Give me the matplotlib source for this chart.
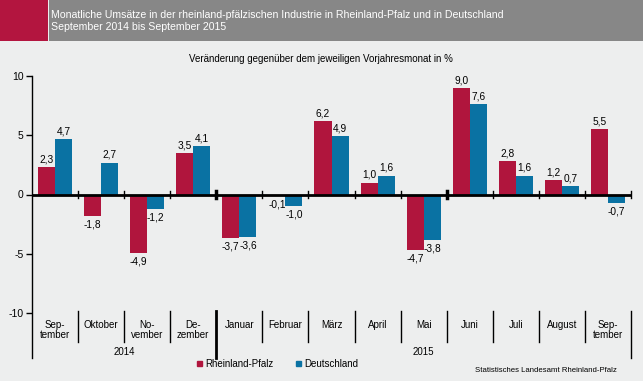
import matplotlib; matplotlib.use("Agg")
import matplotlib.pyplot as plt
from matplotlib.patches import Patch, Rectangle

# data
months = ["Sep-\ntember", "Oktober", "No-\nvember", "De-\nzember", "Januar", "Februar",
          "März", "April", "Mai", "Juni", "Juli", "August", "Sep-\ntember"]
years = [("2014", 0, 3), ("2015", 4, 12)]
rlp = [2.3, -1.8, -4.9, 3.5, -3.7, -0.1, 6.2, 1.0, -4.7, 9.0, 2.8, 1.2, 5.5]
de = [4.7, 2.7, -1.2, 4.1, -3.6, -1.0, 4.9, 1.6, -3.8, 7.6, 1.6, 0.7, -0.7]
series = [("Rheinland-Pfalz", rlp, "#b0153d"), ("Deutschland", de, "#0a72a3")]

BG = "#edeeee"
plt.rcParams["font.family"] = ["Liberation Sans", "DejaVu Sans"]
plt.rcParams["axes.unicode_minus"] = False

fig = plt.figure(figsize=(6.43, 3.81), dpi=100, facecolor=BG)
W, H = 643, 381

# header band
fig.add_artist(Rectangle((0, 1 - 41/H), 48/W, 41/H, transform=fig.transFigure, color="#b3153f", lw=0))
fig.add_artist(Rectangle((49/W, 1 - 41/H), 1, 41/H, transform=fig.transFigure, color="#878787", lw=0))
fig.text(51/W, 1 - 15/H, "Monatliche Umsätze in der rheinland-pfälzischen Industrie in Rheinland-Pfalz und in Deutschland",
         color="white", fontsize=7.6, va="center")
fig.text(51/W, 1 - 26.5/H, "September 2014 bis September 2015", color="white", fontsize=7.6, va="center")
fig.text(321/W, 1 - 59/H, "Veränderung gegenüber dem jeweiligen Vorjahresmonat in %", fontsize=7, ha="center", va="center")

ax = fig.add_axes([32/W, 1 - 313/H, 599/W, 237/H])
ax.set_facecolor("none")
n = len(months)
x = list(range(n))
bw = 0.37
for i, (name, vals, col) in enumerate(series):
    off = (i - 0.5) * bw
    bars = ax.bar([k + off for k in x], vals, bw, color=col, label=name, zorder=2)
    for b, v in zip(bars, vals):
        lab = f"{v:.1f}".replace(".", ",")
        if v >= 0:
            ax.annotate(lab, (b.get_x() + bw/2, v), xytext=(0, 2), textcoords="offset points",
                        ha="center", va="bottom", fontsize=7.3)
        else:
            ax.annotate(lab, (b.get_x() + bw/2, v), xytext=(0, -2.5), textcoords="offset points",
                        ha="center", va="top", fontsize=7.3)

ax.set_xlim(-0.5, n - 0.5)
ax.set_ylim(-10, 10)
ax.set_yticks([-10, -5, 0, 5, 10])
ax.tick_params(axis="y", length=4, width=1, labelsize=7.5, pad=2)
ax.set_xticks([])
for s in ax.spines.values():
    s.set_visible(False)

# zero line with boundary ticks
ax.axhline(0, color="black", lw=2, zorder=3)
for k in range(1, n + 1):
    thick = k in (4, 9)
    ax.plot([k - 0.5, k - 0.5], [-0.3, 0.3], color="black", lw=2.5 if thick else 1, zorder=3,
            clip_on=False)

# left axis line and lower category area
ax.plot([-0.5, -0.5], [1, -0.19], color="black", lw=1, transform=ax.get_xaxis_transform(), clip_on=False)
ax.plot([n - 0.5, n - 0.5], [0.01, -0.19], color="black", lw=1, transform=ax.get_xaxis_transform(), clip_on=False)
for k in range(1, n):
    if k == 4:
        ax.plot([k - 0.5, k - 0.5], [0.01, -0.19], color="black", lw=2, transform=ax.get_xaxis_transform(), clip_on=False)
    else:
        ax.plot([k - 0.5, k - 0.5], [0.01, -0.122], color="black", lw=1, transform=ax.get_xaxis_transform(), clip_on=False)
for k, m in enumerate(months):
    ax.text(k, -0.028, m, ha="center", va="top", fontsize=7, linespacing=1.05,
            transform=ax.get_xaxis_transform())
for yr, a, b in years:
    ax.text((a + b) / 2, -0.165, yr, ha="center", va="center", fontsize=7,
            transform=ax.get_xaxis_transform())

handles = [Patch(color=c, label=nm) for nm, _, c in series]
fig.legend(handles=handles, loc="center left", bbox_to_anchor=(197/W, 1 - 364/H), ncol=2,
           frameon=False, fontsize=7, handlelength=0.55, handleheight=0.55, handletextpad=0.3,
           columnspacing=2.3, borderpad=0, borderaxespad=0)

fig.text(617/W, 1 - 371/H, "Statistisches Landesamt Rheinland-Pfalz", fontsize=5.6, ha="right", va="center")

fig.savefig("out.png", dpi=100, facecolor=BG)
